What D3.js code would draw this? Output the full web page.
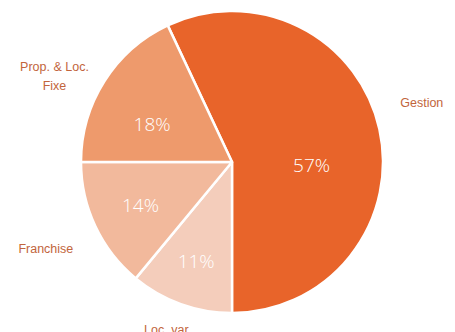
<!DOCTYPE html>
<html>
<head>
<meta charset="utf-8">
<script src="https://cdn.jsdelivr.net/npm/d3@7"></script>
<style>
  body { margin: 0; background: #fff; }
  svg { display: block; }
  .outer-label { font-family: "Liberation Sans", Arial, sans-serif; font-size: 12.5px; fill: #c2653c; }
  .pct-label { font-family: "Open Sans", "Liberation Sans", sans-serif; font-weight: 300; font-size: 19px; fill: #fff; }
</style>
</head>
<body>
<script>
// données du graphique
var categories = ["Gestion", "Loc. var.", "Franchise", "Prop. & Loc.\nFixe"];
var values = [57, 11, 14, 18];
var colors = ["#e8642a", "#f4cdbb", "#f2b99c", "#ee9a6c"];

var width = 455, height = 332;
var cx = 232, cy = 162, r = 151;

var svg = d3.select("body").append("svg")
    .attr("width", width)
    .attr("height", height);

var g = svg.append("g")
    .attr("transform", "translate(" + cx + "," + cy + ")");

var data = categories.map(function(c, i) { return {name: c, value: values[i], color: colors[i]}; });

// Gestion finit à 6h, le reste tourne dans le sens horaire
var start = Math.PI - 2 * Math.PI * values[0] / 100;
var pie = d3.pie()
    .sort(null)
    .value(function(d) { return d.value; })
    .startAngle(start)
    .endAngle(start + 2 * Math.PI);

var arcs = pie(data);

var arc = d3.arc().innerRadius(0).outerRadius(r);

g.selectAll("path.slice")
    .data(arcs)
    .enter().append("path")
    .attr("class", "slice")
    .attr("d", arc)
    .attr("fill", function(d) { return d.data.color; })
    .attr("stroke", "#fff")
    .attr("stroke-width", 2.5)
    .attr("stroke-linejoin", "round");

// étiquettes en pourcentage (à l'intérieur)
var pctRadius = [0.52, 0.70, 0.67, 0.58];
var pctNudge = [[3, 20], [0, 0], [0, 0], [-6, 9]];
g.selectAll("text.pct-label")
    .data(arcs)
    .enter().append("text")
    .attr("class", "pct-label")
    .attr("text-anchor", "middle")
    .attr("dy", "0.35em")
    .attr("transform", function(d, i) {
        var a = d3.arc().innerRadius(r * pctRadius[i]).outerRadius(r * pctRadius[i]);
        var c = a.centroid(d);
        return "translate(" + (c[0] + pctNudge[i][0]) + "," + (c[1] + pctNudge[i][1]) + ")";
    })
    .text(function(d) { return d.data.value + "%"; });

// étiquettes des catégories (à l'extérieur)
var outerRadius = [1.22, 1.10, 1.26, 1.22];
var outerNudge = [[10, -19], [-8, 11], [-14, 6], [-22, 11]];
var outer = g.selectAll("text.outer-label")
    .data(arcs)
    .enter().append("text")
    .attr("class", "outer-label")
    .attr("text-anchor", "middle")
    .attr("transform", function(d, i) {
        var a = d3.arc().innerRadius(r * outerRadius[i]).outerRadius(r * outerRadius[i]);
        var c = a.centroid(d);
        return "translate(" + (c[0] + outerNudge[i][0]) + "," + (c[1] + outerNudge[i][1]) + ")";
    });

outer.each(function(d) {
    var lines = d.data.name.split("\n");
    var t = d3.select(this);
    lines.forEach(function(l, k) {
        t.append("tspan")
            .attr("x", 0)
            .attr("dy", k === 0 ? (-(lines.length - 1) * 0.6 + 0.35) + "em" : "1.5em")
            .text(l);
    });
});
</script>
</body>
</html>
